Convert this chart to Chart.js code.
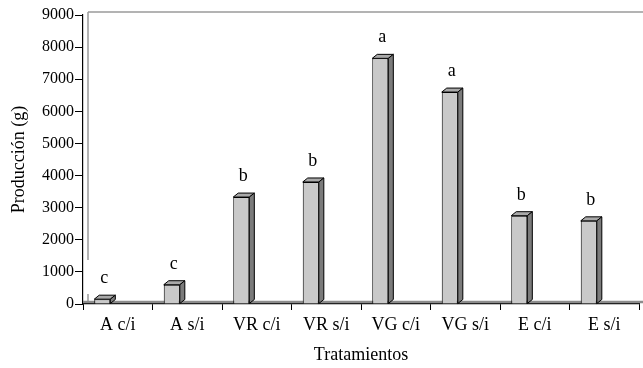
<!DOCTYPE html>
<html lang="es">
<head>
  <meta charset="UTF-8">
  <title>Producción por tratamiento</title>
  <script src="https://cdn.jsdelivr.net/npm/chart.js"></script>
  <style>
    html, body { margin: 0; padding: 0; background: #fff; }
    #wrap { width: 643px; height: 368px; }
  </style>
</head>
<body>
  <div id="wrap"><canvas id="chart"></canvas></div>

  <script>
    const tratamientos = ["A c/i", "A s/i", "VR c/i", "VR s/i", "VG c/i", "VG s/i", "E c/i", "E s/i"];
    const produccion = [150, 600, 3330, 3800, 7650, 6600, 2750, 2590];
    const letras = ["c", "c", "b", "b", "a", "a", "b", "b"];
    const yTicks = [0, 1000, 2000, 3000, 4000, 5000, 6000, 7000, 8000, 9000];

    const FONT = "'Liberation Serif', 'Times New Roman', serif";
    const DX = 5, DY = 4;

    // fondo 3D: pared y suelo en gris
    const wallPlugin = {
      id: "wall",
      beforeDatasetsDraw(chart) {
        const { ctx, chartArea: a } = chart;
        ctx.save();
        ctx.strokeStyle = "#9a9a9a";
        ctx.lineWidth = 1.5;
        ctx.beginPath();
        ctx.moveTo(a.left + DX, a.top - 3);
        ctx.lineTo(chart.width, a.top - 3);
        ctx.moveTo(a.left + DX, a.top - 3);
        ctx.lineTo(a.left + DX, a.bottom - 44);
        ctx.moveTo(a.left + DX, a.bottom - 10);
        ctx.lineTo(a.left + DX, a.bottom - 2);
        ctx.stroke();
        ctx.lineWidth = 2.5;
        ctx.strokeStyle = "#8c8c8c";
        ctx.beginPath();
        ctx.moveTo(a.left, a.bottom - 2);
        ctx.lineTo(a.right + DX, a.bottom - 2);
        ctx.stroke();
        ctx.restore();
      }
    };

    // caras superior y lateral de las barras + letras
    const bar3dPlugin = {
      id: "bar3d",
      afterDatasetsDraw(chart) {
        const { ctx } = chart;
        const meta = chart.getDatasetMeta(0);
        ctx.save();
        ctx.lineWidth = 1;
        ctx.strokeStyle = "#000";
        meta.data.forEach((el, i) => {
          const L = el.x - el.width / 2, R = el.x + el.width / 2;
          const y = el.y, b = el.base;
          ctx.fillStyle = "#a9a9a9";
          ctx.beginPath();
          ctx.moveTo(L, y); ctx.lineTo(R, y); ctx.lineTo(R + DX, y - DY); ctx.lineTo(L + DX, y - DY);
          ctx.closePath(); ctx.fill(); ctx.stroke();
          ctx.fillStyle = "#7b7b7b";
          ctx.beginPath();
          ctx.moveTo(R, y); ctx.lineTo(R + DX, y - DY); ctx.lineTo(R + DX, b - DY); ctx.lineTo(R, b);
          ctx.closePath(); ctx.fill(); ctx.stroke();

          ctx.fillStyle = "#000";
          ctx.font = "18px " + FONT;
          ctx.textAlign = "center";
          ctx.textBaseline = "alphabetic";
          ctx.fillText(letras[i], el.x + 2, y - 16);
        });
        ctx.restore();
      }
    };

    new Chart(document.getElementById("chart"), {
      type: "bar",
      data: {
        labels: tratamientos,
        datasets: [
          {
            label: "Producción (g)",
            data: produccion,
            backgroundColor: "#c9c9c9",
            borderColor: "#000",
            borderWidth: 1,
            categoryPercentage: 0.89,
            barPercentage: 0.52
          },
          {
            label: "",
            data: tratamientos.map(() => null),
            categoryPercentage: 0.89,
            barPercentage: 0.52
          }
        ]
      },
      options: {
        responsive: true,
        maintainAspectRatio: false,
        animation: false,
        layout: { padding: { top: 15, right: 4, left: 0, bottom: 0 } },
        plugins: {
          legend: { display: false },
          tooltip: { enabled: false }
        },
        scales: {
          x: {
            grid: { display: true, drawOnChartArea: false, color: "#000", tickLength: 6, offset: true },
            border: { color: "#000", width: 1.2 },
            ticks: { color: "#000", font: { family: FONT, size: 18 }, padding: 4, maxRotation: 0 },
            title: { display: true, text: "Tratamientos", color: "#000", font: { family: FONT, size: 18 }, padding: { top: 0, bottom: 2 } },
            afterFit(scale) { scale.height = 64; }
          },
          y: {
            min: 0,
            max: 9000,
            afterBuildTicks(scale) { scale.ticks = yTicks.map(v => ({ value: v })); },
            grid: { display: true, drawOnChartArea: false, color: "#000", tickLength: 8 },
            border: { color: "#000", width: 1.2 },
            ticks: { color: "#000", font: { family: FONT, size: 16 }, padding: 1, callback: v => String(v) },
            title: { display: true, text: "Producción (g)", color: "#000", font: { family: FONT, size: 18 }, padding: { top: 8, bottom: 0 } },
            afterFit(scale) { scale.width = 83; }
          }
        }
      },
      plugins: [wallPlugin, bar3dPlugin]
    });
  </script>
</body>
</html>
